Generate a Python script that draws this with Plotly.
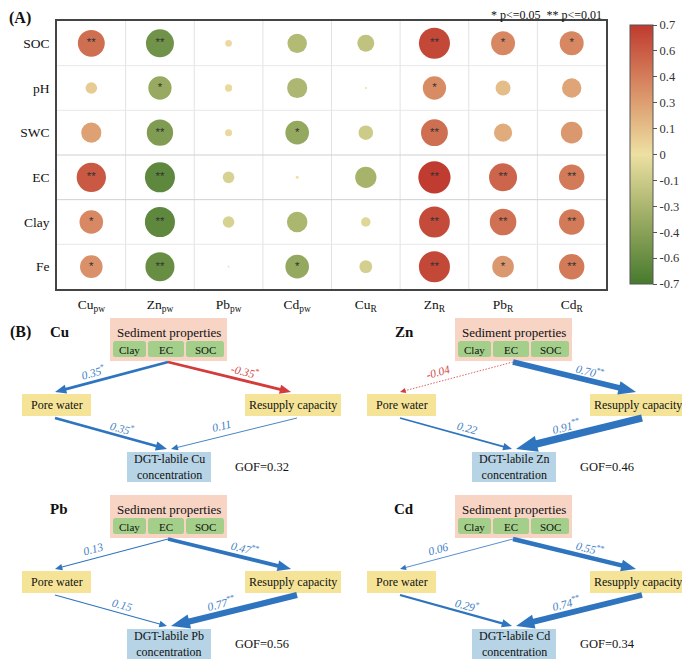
import numpy as np
import plotly.graph_objects as go

PAGE_W, PAGE_H = 690, 671
OFF = 8  # browser body margin
W, H = PAGE_W - OFF, PAGE_H - OFF
SERIF = "Liberation Serif"

# ---------------- Panel A data ----------------
rows = ["SOC", "pH", "SWC", "EC", "Clay", "Fe"]
cols = ["Cu<sub>pw</sub>", "Zn<sub>pw</sub>", "Pb<sub>pw</sub>", "Cd<sub>pw</sub>",
        "Cu<sub>R</sub>", "Zn<sub>R</sub>", "Pb<sub>R</sub>", "Cd<sub>R</sub>"]

r_SOC = [0.48, -0.52, 0.03, -0.25, -0.19, 0.64, 0.38, 0.38]
r_pH = [0.09, -0.36, 0.035, -0.27, 0.003, 0.36, 0.15, 0.25]
r_SWC = [0.27, -0.46, 0.033, -0.37, -0.14, 0.48, 0.22, 0.31]
r_EC = [0.57, -0.60, -0.09, 0.006, -0.30, 0.69, 0.52, 0.43]
r_Clay = [0.37, -0.60, -0.09, -0.28, -0.06, 0.63, 0.47, 0.43]
r_Fe = [0.34, -0.56, 0.002, -0.37, -0.11, 0.64, 0.31, 0.43]

sig_SOC = ["**", "**", "", "", "", "**", "*", "*"]
sig_pH = ["", "*", "", "", "", "*", "", ""]
sig_SWC = ["", "**", "", "*", "", "**", "", ""]
sig_EC = ["**", "**", "", "", "", "**", "**", "**"]
sig_Clay = ["*", "**", "", "", "", "**", "**", "**"]
sig_Fe = ["*", "**", "", "*", "", "**", "*", "**"]

cbar_tickvals = [-0.7, -0.56, -0.42, -0.28, -0.14, 0.0, 0.14, 0.28, 0.42, 0.56, 0.7]
cbar_ticktext = ["-0.7", "-0.6", "-0.4", "-0.3", "-0.1", "0", "0.1", "0.3", "0.4", "0.6", "0.7"]

# ---------------- Panel B data ----------------
metals = ["Cu", "Zn", "Pb", "Cd"]
coef_sed_pw = [0.35, -0.04, 0.13, 0.06]
coef_sed_res = [-0.35, 0.70, 0.47, 0.55]
coef_pw_dgt = [0.35, 0.22, 0.15, 0.29]
coef_res_dgt = [0.11, 0.91, 0.77, 0.74]
sig_sed_pw = ["*", "", "", ""]
sig_sed_res = ["*", "**", "**", "**"]
sig_pw_dgt = ["*", "", "", "*"]
sig_res_dgt = ["", "**", "**", "**"]
gof = [0.32, 0.46, 0.56, 0.34]

R = [r_SOC, r_pH, r_SWC, r_EC, r_Clay, r_Fe]
S = [sig_SOC, sig_pH, sig_SWC, sig_EC, sig_Clay, sig_Fe]

xs, ys, vals, sigs = [], [], [], []
for i, (rr, ss) in enumerate(zip(R, S)):
    for j, (v, s) in enumerate(zip(rr, ss)):
        xs.append(j); ys.append(i); vals.append(v); sigs.append(s)
vals = np.array(vals)
sizes = 38.8 * np.sqrt(np.abs(vals))

colorscale = [[0.0, "#467a2e"], [0.25, "#9aab62"], [0.5, "#ede0a2"],
              [0.75, "#d98e66"], [1.0, "#bf3a2e"]]


def px_x(x):  # page x -> figure fraction
    return (x - OFF) / W


def px_y(y):  # page y -> figure fraction (from bottom)
    return 1 - (y - OFF) / H


fig = go.Figure()
fig.add_trace(go.Scatter(
    x=xs, y=ys, mode="markers",
    marker=dict(size=sizes, color=vals, colorscale=colorscale, cmin=-0.7, cmax=0.7,
                line=dict(width=0), opacity=1,
                colorbar=dict(tickvals=cbar_tickvals, ticktext=cbar_ticktext,
                              thickness=23, thicknessmode="pixels",
                              len=259, lenmode="pixels",
                              x=px_x(630), xanchor="left", xref="container",
                              y=px_y(154.5), yanchor="middle", yref="container",
                              outlinewidth=1, outlinecolor="#555",
                              ticks="outside", ticklen=4, tickcolor="#555",
                              tickfont=dict(family=SERIF, size=12.5, color="#333"),
                              xpad=0, ypad=0)),
    hoverinfo="skip", showlegend=False))
fig.add_trace(go.Scatter(
    x=xs, y=ys, mode="text", text=sigs, textposition="middle center",
    textfont=dict(family="Liberation Sans", size=11.5, color="#333"),
    hoverinfo="skip", showlegend=False))

shapes = []
# grid lines at cell boundaries
for k in range(1, 8):
    shapes.append(dict(type="line", xref="x", yref="y", x0=k - 0.5, x1=k - 0.5, y0=-0.5, y1=5.5,
                       line=dict(color="#e2e2e2", width=1), layer="below"))
for k in range(1, 6):
    colr = "#d0d0d0" if k in (3, 4) else "#e8e8e8"
    shapes.append(dict(type="line", xref="x", yref="y", x0=-0.5, x1=7.5, y0=k - 0.5, y1=k - 0.5,
                       line=dict(color=colr, width=1), layer="below"))

annotations = []


def ann(x, y, text, size=12, bold=False, color="#111", xanchor="center", angle=0):
    t = f"<b>{text}</b>" if bold else text
    annotations.append(dict(x=x, y=y, xref="x2", yref="y2", text=t, showarrow=False,
                            font=dict(family=SERIF, size=size, color=color),
                            xanchor=xanchor, yanchor="middle", textangle=angle))


ann(20, 18, "(A)", size=16, bold=True)
ann(604, 14.5, "* p&lt;=0.05  ** p&lt;=0.01", size=12, xanchor="right")
ann(20, 332, "(B)", size=16, bold=True)


def rrect(x0, y0, x1, y1, fill, rad=0.0):
    if rad <= 0:
        shapes.append(dict(type="rect", xref="x2", yref="y2", x0=x0, y0=y0, x1=x1, y1=y1,
                           fillcolor=fill, line=dict(width=0)))
    else:
        r = rad
        p = (f"M{x0 + r},{y0} L{x1 - r},{y0} Q{x1},{y0} {x1},{y0 + r} L{x1},{y1 - r} "
             f"Q{x1},{y1} {x1 - r},{y1} L{x0 + r},{y1} Q{x0},{y1} {x0},{y1 - r} "
             f"L{x0},{y0 + r} Q{x0},{y0} {x0 + r},{y0} Z")
        shapes.append(dict(type="path", xref="x2", yref="y2", path=p,
                           fillcolor=fill, line=dict(width=0)))


BLUE, RED = "#2f74be", "#d43b3b"
BLUE_T, RED_T = "#3f80c6", "#d44a4a"


def arrow(x0, y0, x1, y1, c):
    a = abs(c)
    w = max(0.8, 8 * a)
    L = 5 + 18 * a
    hh = 2.4 + 6.3 * a
    col = BLUE if c >= 0 else RED
    d = np.array([x1 - x0, y1 - y0], dtype=float)
    n = d / np.linalg.norm(d)
    p = np.array([-n[1], n[0]])
    tip = np.array([x1, y1], dtype=float)
    base = tip - L * n
    lend = base + 1.0 * n
    shapes.append(dict(type="line", xref="x2", yref="y2", x0=x0, y0=y0, x1=lend[0], y1=lend[1],
                       line=dict(color=col, width=w, dash="1.5px,1.5px" if a < 0.05 else "solid")))
    b1 = base + hh * p
    b2 = base - hh * p
    shapes.append(dict(type="path", xref="x2", yref="y2",
                       path=f"M{tip[0]},{tip[1]} L{b1[0]},{b1[1]} L{b2[0]},{b2[1]} Z",
                       fillcolor=col, line=dict(width=0)))


def coef_label(x, y, c, s, angle):
    t = f"<i>{c:.2f}</i>" + (f"<sup>{s}</sup>" if s else "")
    ann(x, y, t, size=11.5, color=BLUE_T if c >= 0 else RED_T, angle=angle)


origins = [(0, 0), (345, 0), (0, 177), (345, 177)]
for k, m in enumerate(metals):
    ox, oy = origins[k]
    ann(ox + 59, oy + 332, m, size=15, bold=True)
    # sediment properties box
    rrect(ox + 110, oy + 318, ox + 227, oy + 361, "#f7d4c4")
    ann(ox + 168.5, oy + 332, "Sediment properties", size=13)
    for (a0, a1, lab) in [(113, 146, "Clay"), (148, 184, "EC"), (186, 224, "SOC")]:
        rrect(ox + a0, oy + 341, ox + a1, oy + 357, "#a4cf8a", rad=2.5)
        ann(ox + (a0 + a1) / 2, oy + 349.5, lab, size=11)
    # pore water / resupply
    rrect(ox + 22, oy + 394, ox + 91, oy + 416, "#f5e497")
    ann(ox + 56.5, oy + 405, "Pore water", size=12)
    rrect(ox + 245, oy + 394, ox + 341, oy + 416, "#f5e497")
    ann(ox + 293, oy + 405, "Resupply capacity", size=12)
    # DGT box
    rrect(ox + 127, oy + 452, ox + 211, oy + 482, "#b6d4e5")
    ann(ox + 169, oy + 467, f"DGT-labile {m}<br>concentration", size=12)
    ann(ox + 233, oy + 467, f"GOF={gof[k]:.2f}", size=12.5, xanchor="left")
    # arrows
    arrow(ox + 168, oy + 362, ox + 55, oy + 392, coef_sed_pw[k])
    arrow(ox + 168, oy + 362, ox + 291, oy + 392, coef_sed_res[k])
    arrow(ox + 55, oy + 418, ox + 167, oy + 449, coef_pw_dgt[k])
    arrow(ox + 297, oy + 418, ox + 171, oy + 449, coef_res_dgt[k])
    coef_label(ox + 93, oy + 372, coef_sed_pw[k], sig_sed_pw[k], -15)
    coef_label(ox + 245, oy + 371, coef_sed_res[k], sig_sed_res[k], 14)
    coef_label(ox + 122, oy + 428, coef_pw_dgt[k], sig_pw_dgt[k], 15)
    coef_label(ox + 221, oy + 426, coef_res_dgt[k], sig_res_dgt[k], -14)

fig.update_layout(
    width=W, height=H, autosize=False,
    margin=dict(l=0, r=0, t=0, b=0, autoexpand=False),
    font=dict(family=SERIF, color="#111"),
    paper_bgcolor="white", plot_bgcolor="rgba(0,0,0,0)",
    showlegend=False,
    xaxis=dict(domain=[px_x(57), px_x(606)], range=[-0.5, 7.5], tickvals=list(range(8)), ticktext=cols,
               showgrid=False, zeroline=False, showline=True, mirror=True, linecolor="#444",
               linewidth=1.5, ticks="", ticklabelstandoff=2,
               tickfont=dict(family=SERIF, size=13.5, color="#111"), fixedrange=True),
    yaxis=dict(domain=[px_y(289), px_y(21)], range=[5.5, -0.5], tickvals=list(range(6)), ticktext=rows,
               showgrid=False, zeroline=False, showline=True, mirror=True, linecolor="#444",
               linewidth=1.5, ticks="", ticklabelstandoff=3,
               tickfont=dict(family=SERIF, size=13.5, color="#111"), fixedrange=True),
    xaxis2=dict(domain=[0, 1], range=[OFF, PAGE_W], visible=False, anchor="y2", fixedrange=True),
    yaxis2=dict(domain=[0, 1], range=[PAGE_H, OFF], visible=False, anchor="x2", fixedrange=True),
    shapes=shapes, annotations=annotations,
)

fig.write_html("out.html")
